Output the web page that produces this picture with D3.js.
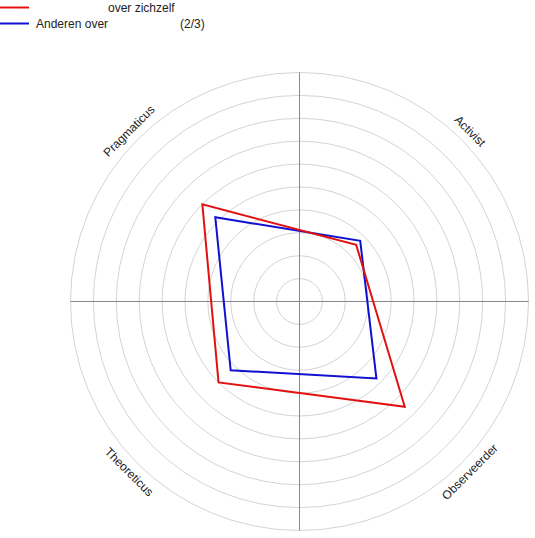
<!DOCTYPE html>
<meta charset="utf-8" />
<style>
  body { margin: 0; background: #fff; }
  svg text { font-family: "Liberation Sans", Arial, sans-serif; fill: #222; }
  .grid circle { fill: none; stroke: #d4d4d4; stroke-width: 1px; }
  .axes line { stroke: #888; stroke-width: 1px; }
</style>
<svg width="535" height="538"></svg>
<script src="https://d3js.org/d3.v7.min.js"></script>
<script>
  // axes, clockwise starting at upper right
  var categories = ["Activist", "Observeerder", "Theoreticus", "Pragmaticus"];
  var angles = [45, 135, 225, 315]; // degrees clockwise from top
  var selfValues = [7, 13, 10, 12];
  var othersValues = [7.5, 9.5, 8.5, 10.4];
  var ringTicks = [2, 4, 6, 8, 10, 12, 14, 16, 18, 20];
  var legendLabels = ["over zichzelf", "Anderen over", "(2/3)"];

  var svg = d3.select("svg");
  var cx = 299.5, cy = 301.5, R = 229;

  var r = d3.scaleLinear().domain([0, 20]).range([0, R]);
  var g = svg.append("g").attr("transform", "translate(" + cx + "," + cy + ")");

  g.append("g").attr("class", "grid")
    .selectAll("circle").data(ringTicks).enter()
    .append("circle").attr("r", function (d) { return r(d); });

  var ax = g.append("g").attr("class", "axes");
  ax.append("line").attr("x1", -R).attr("x2", R).attr("y1", 0).attr("y2", 0);
  ax.append("line").attr("y1", -R).attr("y2", R).attr("x1", 0).attr("x2", 0);

  // labels just outside the outer ring, rotated along the tangent
  g.selectAll("text.cat").data(categories).enter()
    .append("text").attr("class", "cat")
    .attr("font-size", 12)
    .attr("text-anchor", "middle")
    .attr("dominant-baseline", "central")
    .attr("transform", function (d, i) {
      var a = angles[i] * Math.PI / 180;
      var x = Math.sin(a) * (R + 12), y = -Math.cos(a) * (R + 12);
      var rot = angles[i];
      if (rot > 90 && rot < 270) rot -= 180;
      return "translate(" + x + "," + y + ") rotate(" + rot + ")";
    })
    .text(function (d) { return d; });

  var line = d3.lineRadial()
    .angle(function (d, i) { return angles[i] * Math.PI / 180; })
    .radius(function (d) { return r(d); })
    .curve(d3.curveLinearClosed);

  g.append("path").datum(othersValues)
    .attr("d", line).attr("fill", "none")
    .attr("stroke", "#1010d0").attr("stroke-width", 2);
  g.append("path").datum(selfValues)
    .attr("d", line).attr("fill", "none")
    .attr("stroke", "#e41010").attr("stroke-width", 2);

  // legend
  var lg = svg.append("g");
  lg.append("line").attr("x1", 0).attr("x2", 29).attr("y1", 7.5).attr("y2", 7.5)
    .attr("stroke", "#e41010").attr("stroke-width", 2);
  lg.append("line").attr("x1", 0).attr("x2", 29).attr("y1", 23.5).attr("y2", 23.5)
    .attr("stroke", "#1010d0").attr("stroke-width", 2);
  lg.append("text").attr("x", 108).attr("y", 12).attr("font-size", 12).text(legendLabels[0]);
  lg.append("text").attr("x", 36).attr("y", 28).attr("font-size", 12).text(legendLabels[1]);
  lg.append("text").attr("x", 180).attr("y", 28).attr("font-size", 12).text(legendLabels[2]);
</script>
